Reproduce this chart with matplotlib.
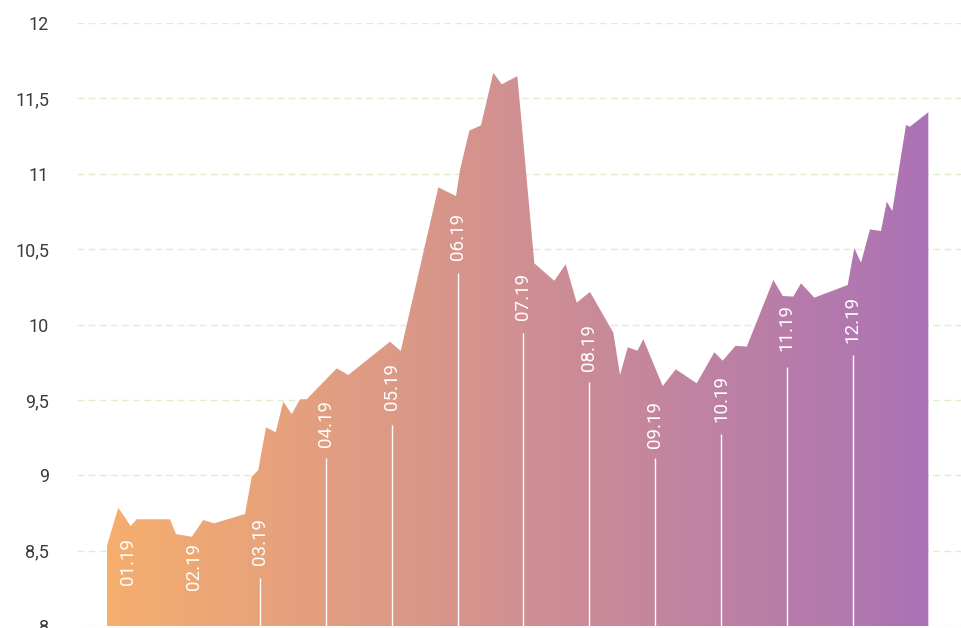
import numpy as np
import matplotlib
matplotlib.use("Agg")
import matplotlib.pyplot as plt
from matplotlib.colors import LinearSegmentedColormap
from matplotlib.patches import Polygon
from matplotlib.ticker import FuncFormatter, FixedLocator

# x in months since 01.19 (0 = start of 01.19)
x_months = [-0.328, -0.152, 0.036, 0.128, 0.633, 0.724, 0.963, 1.139, 1.301, 1.772,
            1.874, 1.974, 2.091, 2.238, 2.353, 2.481, 2.607, 2.709, 3.164, 3.340,
            3.974, 4.136, 4.707, 4.976, 5.036, 5.178, 5.355, 5.542, 5.670, 5.907,
            6.165, 6.468, 6.641, 6.808, 7.010, 7.364, 7.466, 7.583, 7.729, 7.820,
            8.114, 8.312, 8.630, 8.898, 9.025, 9.220, 9.390, 9.794, 9.937, 10.097,
            10.214, 10.416, 10.923, 11.023, 11.125, 11.261, 11.428, 11.515, 11.600, 11.808,
            11.867, 12.147]
values = [8.526, 8.785, 8.663, 8.708, 8.708, 8.610, 8.592, 8.703, 8.681, 8.743,
          8.990, 9.035, 9.318, 9.285, 9.488, 9.406, 9.504, 9.504, 9.709, 9.665,
          9.886, 9.824, 10.910, 10.852, 11.025, 11.286, 11.321, 11.670, 11.593, 11.648,
          10.406, 10.290, 10.400, 10.145, 10.216, 9.946, 9.665, 9.849, 9.826, 9.902,
          9.592, 9.703, 9.610, 9.816, 9.760, 9.859, 9.853, 10.295, 10.189, 10.185,
          10.273, 10.178, 10.262, 10.506, 10.410, 10.631, 10.620, 10.815, 10.753, 11.323,
          11.312, 11.408]

month_labels = ["01.19", "02.19", "03.19", "04.19", "05.19", "06.19",
                "07.19", "08.19", "09.19", "10.19", "11.19", "12.19"]
month_pos = list(range(12))
label_base = [8.272, 8.239, 8.405, 9.189, 9.433, 10.428,
              10.030, 9.694, 9.179, 9.355, 9.826, 9.875]
line_top = [None, None, 8.318, 9.114, 9.333, 10.342,
            9.944, 9.621, 9.112, 9.272, 9.720, 9.798]

y_ticks = [8, 8.5, 9, 9.5, 10, 10.5, 11, 11.5, 12]

color_left = "#F6AE6D"
color_right = "#AB72B6"
grid_color = "#E4EDCB"
tick_color = "#3C3C3C"

W, H = 961, 628
fig = plt.figure(figsize=(W / 100, H / 100), dpi=100)
ax = fig.add_axes([77 / W, 2 / H, (W - 77) / W, (626 - 23) / H])

xlim = (-0.779, 12.643)
ax.set_xlim(*xlim)
ax.set_ylim(8, 12)

# gridlines
for yv in y_ticks:
    ax.axhline(yv, color=grid_color, lw=1.0, ls=(0, (5, 3)), zorder=0)

# gradient-filled area
verts = [(x_months[0], 8)] + list(zip(x_months, values)) + [(x_months[-1], 8)]
poly = Polygon(verts, closed=True, facecolor="none", edgecolor="none")
ax.add_patch(poly)
cmap = LinearSegmentedColormap.from_list("g", [color_left, color_right])
grad = np.linspace(0, 1, 512).reshape(1, -1)
im = ax.imshow(grad, cmap=cmap, aspect="auto",
               extent=[x_months[0], x_months[-1], 8, 12], origin="lower", zorder=1,
               interpolation="bilinear")
im.set_clip_path(poly)

# month markers
for xp, lab, lb, lt in zip(month_pos, month_labels, label_base, line_top):
    if lt is not None:
        ax.plot([xp, xp], [8, lt], color="white", lw=1.0, zorder=2, solid_capstyle="butt")
    ax.text(xp, lb, lab, rotation=90, ha="center", va="bottom", color="white",
            fontsize=13.5, family="Roboto", zorder=3)

# axes styling
for s in ax.spines.values():
    s.set_visible(False)
ax.set_xticks([])
ax.yaxis.set_major_locator(FixedLocator(y_ticks))
ax.yaxis.set_major_formatter(FuncFormatter(lambda v, p: (f"{v:g}").replace(".", ",")))
ax.tick_params(axis="y", length=0, pad=20, labelsize=13, labelcolor=tick_color)
for t in ax.get_yticklabels():
    t.set_family("Roboto")
ax.set_facecolor("white")

fig.savefig("out.png", dpi=100, facecolor="white")
